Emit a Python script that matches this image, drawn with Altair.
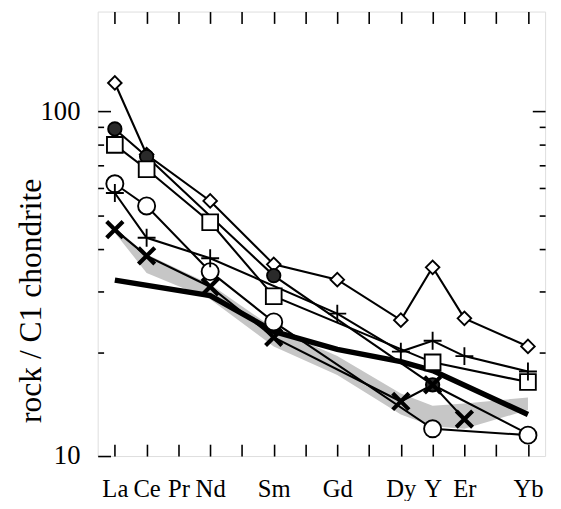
import json
import altair as alt
import pandas as pd

# ---- category positions (atomic-number spacing) ----
ELEMENTS = ["La", "Ce", "Pr", "Nd", "Pm", "Sm", "Eu", "Gd", "Tb", "Dy", "Y", "Er", "Tm", "Yb"]
TICK_LABELS = ["La", "Ce", "Pr", "Nd", "", "Sm", "", "Gd", "", "Dy", "Y", "Er", "", "Yb"]

# ---- sample series ----
diamond_el = ["La", "Ce", "Nd", "Sm", "Gd", "Dy", "Y", "Er", "Yb"]
diamond_val = [121, 75, 55, 36, 32.5, 24.8, 35.3, 25.1, 20.8]

filled_el = ["La", "Ce", "Sm", "Y", "Yb"]
filled_val = [89, 74, 33.4, 16.1, 11.6]

square_el = ["La", "Ce", "Nd", "Sm", "Y", "Yb"]
square_val = [80, 68, 47.7, 29.1, 18.7, 16.4]

circle_el = ["La", "Ce", "Nd", "Sm", "Y", "Yb"]
circle_val = [61.7, 53.2, 34.3, 24.5, 12.0, 11.5]

plus_el = ["La", "Ce", "Nd", "Gd", "Dy", "Y", "Er", "Yb"]
plus_val = [58, 43, 37.5, 25.9, 20.1, 21.6, 19.5, 17.6]

cross_el = ["La", "Ce", "Nd", "Sm", "Dy", "Y", "Er"]
cross_val = [45.4, 38.1, 31.0, 22.1, 14.4, 16.1, 12.8]

# ---- heavy reference line ----
thick_el = ["La", "Nd", "Sm", "Gd", "Dy", "Y", "Yb"]
thick_val = [32.4, 29.2, 23.0, 20.4, 18.8, 17.7, 13.2]

# ---- stippled field ----
band_el = ["La", "Ce", "Nd", "Sm", "Gd", "Dy", "Y", "Er", "Yb"]
band_upper = [46, 38.5, 31.5, 23.5, 19.5, 15.2, 14.0, 14.2, 14.8]
band_lower = [44.5, 34, 28.5, 20.8, 17.2, 13.2, 12.2, 12.0, 13.6]

SERIES = ["diamond", "filled", "square", "circle", "plus", "cross"]
SER_DATA = {
    "diamond": (diamond_el, diamond_val),
    "filled": (filled_el, filled_val),
    "square": (square_el, square_val),
    "circle": (circle_el, circle_val),
    "plus": (plus_el, plus_val),
    "cross": (cross_el, cross_val),
}
STYLE = {
    "diamond": dict(shape="diamond", fill="white", size=190, strokeWidth=1.9),
    "filled": dict(shape="circle", fill="#2a2a2a", size=185, strokeWidth=1.9),
    "square": dict(shape="square", fill="white", size=255, strokeWidth=1.9),
    "circle": dict(shape="circle", fill="white", size=300, strokeWidth=1.9),
    "plus": dict(shape="M-1,0H1M0,-1V1", fill="white", size=330, strokeWidth=1.9),
    "cross": dict(shape="M-0.9,-0.9L0.9,0.9M-0.9,0.9L0.9,-0.9", fill="white", size=340, strokeWidth=4.2),
}

rows = []
for s in SERIES:
    els, vals = SER_DATA[s]
    for e, v in zip(els, vals):
        rows.append({"series": s, "el": e, "x": ELEMENTS.index(e), "value": v})
df = pd.DataFrame(rows)

thick_df = pd.DataFrame({"x": [ELEMENTS.index(e) for e in thick_el], "value": thick_val})
band_df = pd.DataFrame({"x": [ELEMENTS.index(e) for e in band_el], "upper": band_upper, "lower": band_lower})

FONT = "Liberation Serif"
xscale = alt.Scale(domain=[-0.54, 13.54], nice=False, zero=False)
yscale = alt.Scale(type="log", domain=[10, 195], nice=False)

label_expr = json.dumps(TICK_LABELS) + "[round(datum.value)]"
XVALS = list(range(14))
MINOR = [20, 30, 40, 50, 60, 70, 80, 90]

x_bottom = alt.Axis(orient="bottom", values=XVALS, labelExpr=label_expr, tickSize=12, offset=-12,
                    domain=False, grid=False, tickColor="black", tickWidth=1.6,
                    labelFont=FONT, labelFontSize=25, labelColor="black", labelPadding=21,
                    labelFlush=False, labelOverlap=False, title=None)
x_top = alt.Axis(orient="top", values=XVALS, tickSize=12, offset=-12, domain=False, grid=False,
                 labels=False, tickColor="black", tickWidth=1.6, title=None)
y_left_major = alt.Axis(orient="left", values=[10, 100], tickSize=13, offset=-13, domain=False,
                        grid=False, tickColor="black", tickWidth=1.6, labelFont=FONT,
                        labelFontSize=27, labelColor="black", labelPadding=18, labelFlush=False,
                        format="d", title="rock / C1 chondrite", titleFont=FONT, titleFontSize=32,
                        titleFontWeight="normal", titleColor="black", titleY=293, titleX=-64)
y_left_minor = alt.Axis(orient="left", values=MINOR, tickSize=6, offset=-6, domain=False, grid=False,
                        labels=False, tickColor="black", tickWidth=1.6, title=None)
y_right_major = alt.Axis(orient="right", values=[100], tickSize=13, offset=-13, domain=False, grid=False,
                         labels=False, tickColor="black", tickWidth=1.6, title=None)
y_right_minor = alt.Axis(orient="right", values=MINOR, tickSize=6, offset=-6, domain=False, grid=False,
                         labels=False, tickColor="black", tickWidth=1.6, title=None)

band = alt.Chart(band_df).mark_area(color="#c6c6c6", opacity=1).encode(
    x=alt.X("x:Q", scale=xscale, axis=x_bottom),
    y=alt.Y("upper:Q", scale=yscale, axis=y_left_major),
    y2="lower:Q",
)

thick = alt.Chart(thick_df).mark_line(color="black", strokeWidth=5.5).encode(
    x=alt.X("x:Q", scale=xscale, axis=x_top),
    y=alt.Y("value:Q", scale=yscale, axis=y_left_minor),
)

lines = alt.Chart(df).mark_line(color="black", strokeWidth=2.1).encode(
    x=alt.X("x:Q", scale=xscale, axis=None),
    y=alt.Y("value:Q", scale=yscale, axis=y_right_major),
    detail="series:N",
)

point_layers = []
for i, s in enumerate(SERIES):
    st = STYLE[s]
    yaxis = y_right_minor if i == 0 else None
    layer = alt.Chart(df[df.series == s]).mark_point(
        shape=st["shape"], size=st["size"], fill=st["fill"], filled=False,
        stroke="black", strokeWidth=st["strokeWidth"], opacity=1, fillOpacity=1, strokeOpacity=1,
    ).encode(
        x=alt.X("x:Q", scale=xscale, axis=None),
        y=alt.Y("value:Q", scale=yscale, axis=yaxis),
    )
    point_layers.append(layer)

chart = alt.layer(band, thick, lines, *point_layers).resolve_axis(x="independent", y="independent").properties(
    width=454, height=451,
    autosize=alt.AutoSizeParams(type="none"),
    padding={"left": 91, "top": 0, "right": 8, "bottom": 42},
).configure_view(stroke="black", strokeWidth=2).configure(background="white")

chart.save("out.html", embed_options={"renderer": "svg", "actions": False})
